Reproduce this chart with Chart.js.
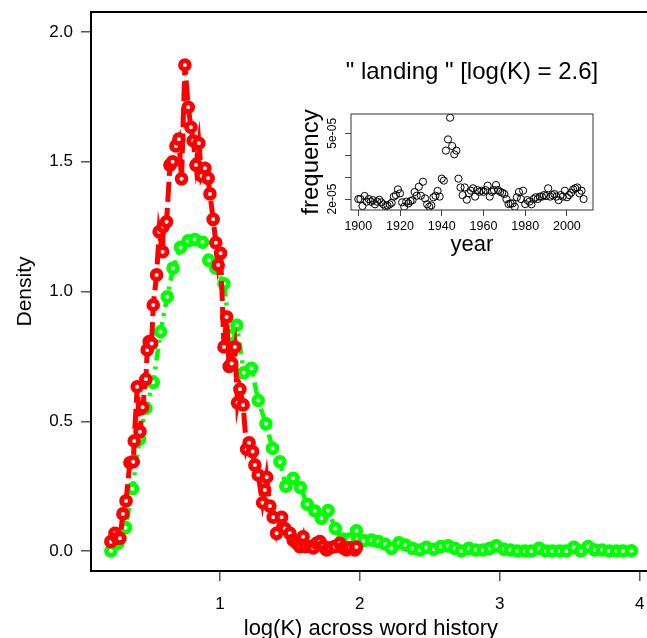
<!DOCTYPE html>
<html>
<head>
<meta charset="utf-8">
<script src="https://cdn.jsdelivr.net/npm/chart.js@4.4.1/dist/chart.umd.min.js"></script>
<style>
  html, body { margin: 0; padding: 0; background: #fff; overflow: hidden; }
  #wrap { position: relative; width: 647px; height: 638px; overflow: hidden; }
  #main { position: absolute; left: 0; top: 0; }
  #inset { position: absolute; left: 290px; top: 40px; }
</style>
</head>
<body>
<div id="wrap">
  <canvas id="main" width="660" height="638"></canvas>
  <canvas id="inset" width="320" height="230"></canvas>
</div>
<script>
// density of log(K) - red: the word, green: background
const redX = [0.221, 0.250, 0.268, 0.286, 0.307, 0.329, 0.357, 0.381, 0.388, 0.409,
    0.429, 0.448, 0.471, 0.481, 0.495, 0.512, 0.524, 0.548, 0.566, 0.591,
    0.595, 0.619, 0.643, 0.662, 0.686, 0.707, 0.726, 0.750, 0.774, 0.793,
    0.809, 0.829, 0.850, 0.869, 0.893, 0.916, 0.929, 0.952, 0.971, 0.988,
    1.005, 1.029, 1.048, 1.066, 1.084, 1.107, 1.126, 1.143, 1.166, 1.191,
    1.209, 1.234, 1.250, 1.274, 1.305, 1.321, 1.334, 1.357, 1.381, 1.405,
    1.441, 1.464, 1.500, 1.524, 1.548, 1.571, 1.595, 1.607, 1.643, 1.667,
    1.691, 1.714, 1.738, 1.762, 1.786, 1.821, 1.857, 1.881, 1.905, 1.929,
    1.964, 1.976];
const redY = [0.036, 0.068, 0.049, 0.049, 0.143, 0.193, 0.340, 0.344, 0.424, 0.633,
    0.460, 0.554, 0.662, 0.775, 0.807, 0.800, 0.948, 1.064, 1.230, 1.153,
    1.250, 1.269, 1.487, 1.500, 1.561, 1.587, 1.434, 1.873, 1.710, 1.633,
    1.581, 1.487, 1.571, 1.445, 1.475, 1.436, 1.376, 1.278, 1.188, 1.102,
    1.147, 0.786, 0.902, 0.711, 0.723, 0.786, 0.571, 0.623, 0.563, 0.392,
    0.417, 0.383, 0.331, 0.293, 0.186, 0.235, 0.284, 0.173, 0.130, 0.068,
    0.130, 0.087, 0.068, 0.042, 0.031, 0.017, 0.055, 0.017, 0.017, 0.012,
    0.030, 0.036, 0.019, 0.004, 0.012, 0.017, 0.030, 0.012, 0.004, 0.012,
    0.004, 0.015];

const greenX = [0.221, 0.271, 0.326, 0.376, 0.425, 0.471, 0.524, 0.576, 0.624, 0.666,
    0.719, 0.774, 0.821, 0.876, 0.921, 0.971, 1.029, 1.075, 1.121, 1.171,
    1.226, 1.274, 1.329, 1.376, 1.429, 1.471, 1.524, 1.576, 1.624, 1.679,
    1.725, 1.774, 1.825, 1.876, 1.925, 1.976, 2.029, 2.084, 2.131, 2.179,
    2.226, 2.279, 2.326, 2.376, 2.429, 2.476, 2.529, 2.579, 2.631, 2.679,
    2.726, 2.779, 2.829, 2.881, 2.929, 2.976, 3.029, 3.076, 3.126, 3.179,
    3.226, 3.281, 3.329, 3.376, 3.429, 3.476, 3.529, 3.579, 3.631, 3.679,
    3.731, 3.781, 3.834, 3.881, 3.941];
const greenY = [0.000, 0.030, 0.090, 0.240, 0.430, 0.550, 0.650, 0.845, 0.980, 1.090,
    1.170, 1.195, 1.200, 1.190, 1.120, 1.090, 1.030, 0.830, 0.870, 0.687,
    0.704, 0.580, 0.490, 0.396, 0.344, 0.250, 0.280, 0.245, 0.180, 0.154,
    0.126, 0.156, 0.087, 0.046, 0.046, 0.078, 0.040, 0.042, 0.036, 0.027,
    0.010, 0.032, 0.023, 0.010, 0.004, 0.014, 0.007, 0.017, 0.020, 0.010,
    0.000, 0.010, 0.004, 0.004, 0.010, 0.020, 0.007, 0.004, 0.000, 0.000,
    0.000, 0.010, 0.000, 0.000, 0.000, 0.000, 0.014, 0.000, 0.017, 0.004,
    0.004, 0.000, 0.000, 0.000, 0.001];

const mainTicksX = [1, 2, 3, 4];
const mainTicksY = [0, 0.5, 1, 1.5, 2];

// inset: yearly frequency of "landing" (in units of 1e-05)
const years = [1900, 1901, 1902, 1903, 1904, 1905, 1906, 1907, 1908, 1909,
    1910, 1911, 1912, 1913, 1914, 1915, 1916, 1917, 1918, 1919,
    1920, 1921, 1922, 1923, 1924, 1925, 1926, 1927, 1928, 1929,
    1930, 1931, 1932, 1933, 1934, 1935, 1936, 1937, 1938, 1939,
    1940, 1941, 1942, 1943, 1944, 1945, 1946, 1947, 1948, 1949,
    1950, 1951, 1952, 1953, 1954, 1955, 1956, 1957, 1958, 1959,
    1960, 1961, 1962, 1963, 1964, 1965, 1966, 1967, 1968, 1969,
    1970, 1971, 1972, 1973, 1974, 1975, 1976, 1977, 1978, 1979,
    1980, 1981, 1982, 1983, 1984, 1985, 1986, 1987, 1988, 1989,
    1990, 1991, 1992, 1993, 1994, 1995, 1996, 1997, 1998, 1999,
    2000, 2001, 2002, 2003, 2004, 2005, 2006, 2007, 2008];
const freq = [2.00, 2.00, 1.68, 2.14, 1.88, 2.00, 1.88, 1.95, 1.76, 1.88,
    1.97, 1.85, 1.76, 1.68, 1.70, 1.76, 1.83, 2.11, 2.18, 2.44,
    2.26, 1.85, 1.65, 1.88, 1.80, 1.91, 1.95, 2.32, 2.15, 2.56,
    2.15, 2.79, 2.03, 1.76, 1.65, 1.71, 2.08, 2.15, 2.37, 2.11,
    2.93, 2.84, 4.21, 4.72, 5.71, 4.42, 4.04, 4.21, 2.93, 2.53,
    2.18, 2.53, 1.97, 2.26, 2.38, 2.49, 2.11, 2.41, 2.33, 2.38,
    2.33, 2.41, 2.61, 2.11, 2.33, 2.41, 2.64, 2.41, 2.33, 2.29,
    2.23, 2.00, 1.77, 1.80, 1.80, 1.65, 2.08, 2.32, 2.00, 2.38,
    1.77, 1.95, 1.88, 1.76, 2.00, 2.08, 2.00, 2.11, 2.11, 2.18,
    2.14, 2.49, 2.11, 2.18, 2.23, 2.11, 1.95, 2.18, 2.11, 2.38,
    2.08, 2.18, 2.29, 2.44, 2.49, 2.53, 2.26, 2.38, 2.00];
const insetTicksX = [1900, 1920, 1940, 1960, 1980, 2000];
const insetTicksY = [2, 3, 4, 5];
const insetLabelsY = { 2: '2e-05', 5: '5e-05' };
const insetTitle = '" landing " [log(K) = 2.6]';

Chart.defaults.font.family = '"Liberation Sans", Arial, Helvetica, sans-serif';
Chart.defaults.color = '#000';

function toPoints(xs, ys) {
    return xs.map((x, i) => ({ x: x, y: ys[i] }));
}

// fixed axis sizes, so the plot box lands where the original one is
function fixWidth(w) {
    return s => { s.width = w; s.paddingTop = 0; s.paddingBottom = 0; };
}
function fixHeight(h) {
    return s => { s.height = h; s.paddingLeft = 0; s.paddingRight = 0; };
}

// R style box round the plot region
const framePlugin = {
    id: 'frame',
    afterDatasetsDraw(chart, args, opts) {
        const { ctx, chartArea: a } = chart;
        ctx.save();
        ctx.strokeStyle = opts.color;
        ctx.lineWidth = opts.width;
        ctx.strokeRect(a.left, a.top, a.right - a.left, a.bottom - a.top);
        ctx.restore();
    }
};

// main density plot
new Chart(document.getElementById('main'), {
    type: 'scatter',
    data: {
        datasets: [
            {
                data: toPoints(redX, redY),
                showLine: true,
                borderColor: '#ff0000',
                borderWidth: 5,
                borderDash: [20, 6],
                pointRadius: 4.4,
                pointBorderWidth: 4.8,
                pointBorderColor: '#ff0000',
                pointBackgroundColor: '#ffffff'
            },
            {
                data: toPoints(greenX, greenY),
                showLine: true,
                borderColor: '#00ff00',
                borderWidth: 4.5,
                borderDash: [3, 6, 12, 6],
                pointRadius: 4.4,
                pointBorderWidth: 4.8,
                pointBorderColor: '#00ff00',
                pointBackgroundColor: '#ffffff'
            }
        ]
    },
    options: {
        responsive: false,
        animation: false,
        events: [],
        layout: { padding: { top: 12, right: 9, left: 0, bottom: 0 } },
        plugins: {
            legend: { display: false },
            tooltip: { enabled: false },
            frame: { color: '#000', width: 2 }
        },
        scales: {
            x: {
                type: 'linear',
                min: 0.079,
                max: 4.079,
                afterBuildTicks: s => { s.ticks = mainTicksX.map(v => ({ value: v })); },
                afterFit: fixHeight(67),
                grid: { drawOnChartArea: false, tickLength: 10, color: '#555', lineWidth: 1.5 },
                border: { display: false },
                ticks: { padding: 13, font: { size: 17 }, color: '#000', callback: v => String(v) },
                title: {
                    display: true,
                    text: 'log(K) across word history',
                    font: { size: 22 },
                    color: '#000',
                    padding: { top: 0, bottom: -4 }
                }
            },
            y: {
                type: 'linear',
                min: -0.077,
                max: 2.077,
                afterBuildTicks: s => { s.ticks = mainTicksY.map(v => ({ value: v })); },
                afterFit: fixWidth(91),
                grid: { drawOnChartArea: false, tickLength: 10, color: '#555', lineWidth: 1.5 },
                border: { display: false },
                ticks: { padding: 8, font: { size: 17 }, color: '#000', callback: v => v.toFixed(1) },
                title: {
                    display: true,
                    text: 'Density',
                    font: { size: 21 },
                    color: '#000',
                    padding: { top: 13, bottom: 0 }
                }
            }
        }
    },
    plugins: [framePlugin]
});

// rotated y labels and the title of the inset
const insetTextPlugin = {
    id: 'insetText',
    afterDraw(chart) {
        const { ctx, chartArea: a } = chart;
        const yScale = chart.scales.y;
        ctx.save();
        ctx.fillStyle = '#000';
        ctx.font = '12px "Liberation Sans", Arial, sans-serif';
        ctx.textAlign = 'center';
        ctx.textBaseline = 'middle';
        Object.keys(insetLabelsY).forEach(k => {
            const py = yScale.getPixelForValue(Number(k));
            ctx.save();
            ctx.translate(a.left - 18, py);
            ctx.rotate(-Math.PI / 2);
            ctx.fillText(insetLabelsY[k], 0, 0);
            ctx.restore();
        });
        ctx.font = '24px "Liberation Sans", Arial, sans-serif';
        ctx.fillText(insetTitle, (a.left + a.right) / 2, a.top - 42);
        ctx.restore();
    }
};

new Chart(document.getElementById('inset'), {
    type: 'scatter',
    data: {
        datasets: [{
            data: toPoints(years, freq),
            showLine: false,
            pointRadius: 3.6,
            pointBorderWidth: 1,
            pointBorderColor: '#000',
            pointBackgroundColor: 'rgba(0,0,0,0)'
        }]
    },
    options: {
        responsive: false,
        animation: false,
        events: [],
        layout: { padding: { top: 74, right: 17, left: 0, bottom: 0 } },
        plugins: {
            legend: { display: false },
            tooltip: { enabled: false },
            frame: { color: '#333', width: 1 }
        },
        scales: {
            x: {
                type: 'linear',
                min: 1896.5,
                max: 2012.5,
                afterBuildTicks: s => { s.ticks = insetTicksX.map(v => ({ value: v })); },
                afterFit: fixHeight(60),
                grid: { drawOnChartArea: false, tickLength: 6, color: '#444' },
                border: { display: false },
                ticks: { padding: 3, font: { size: 12.5 }, color: '#000', callback: v => String(v) },
                title: {
                    display: true,
                    text: 'year',
                    font: { size: 22 },
                    color: '#000',
                    padding: { top: 0, bottom: 12 }
                }
            },
            y: {
                type: 'linear',
                min: 1.50,
                max: 5.88,
                afterBuildTicks: s => { s.ticks = insetTicksY.map(v => ({ value: v })); },
                afterFit: fixWidth(61),
                grid: { drawOnChartArea: false, tickLength: 6, color: '#444' },
                border: { display: false },
                ticks: { display: false },
                title: {
                    display: true,
                    text: 'frequency',
                    font: { size: 24 },
                    color: '#000',
                    padding: { top: 7, bottom: 0 }
                }
            }
        }
    },
    plugins: [framePlugin, insetTextPlugin]
});
</script>
</body>
</html>
